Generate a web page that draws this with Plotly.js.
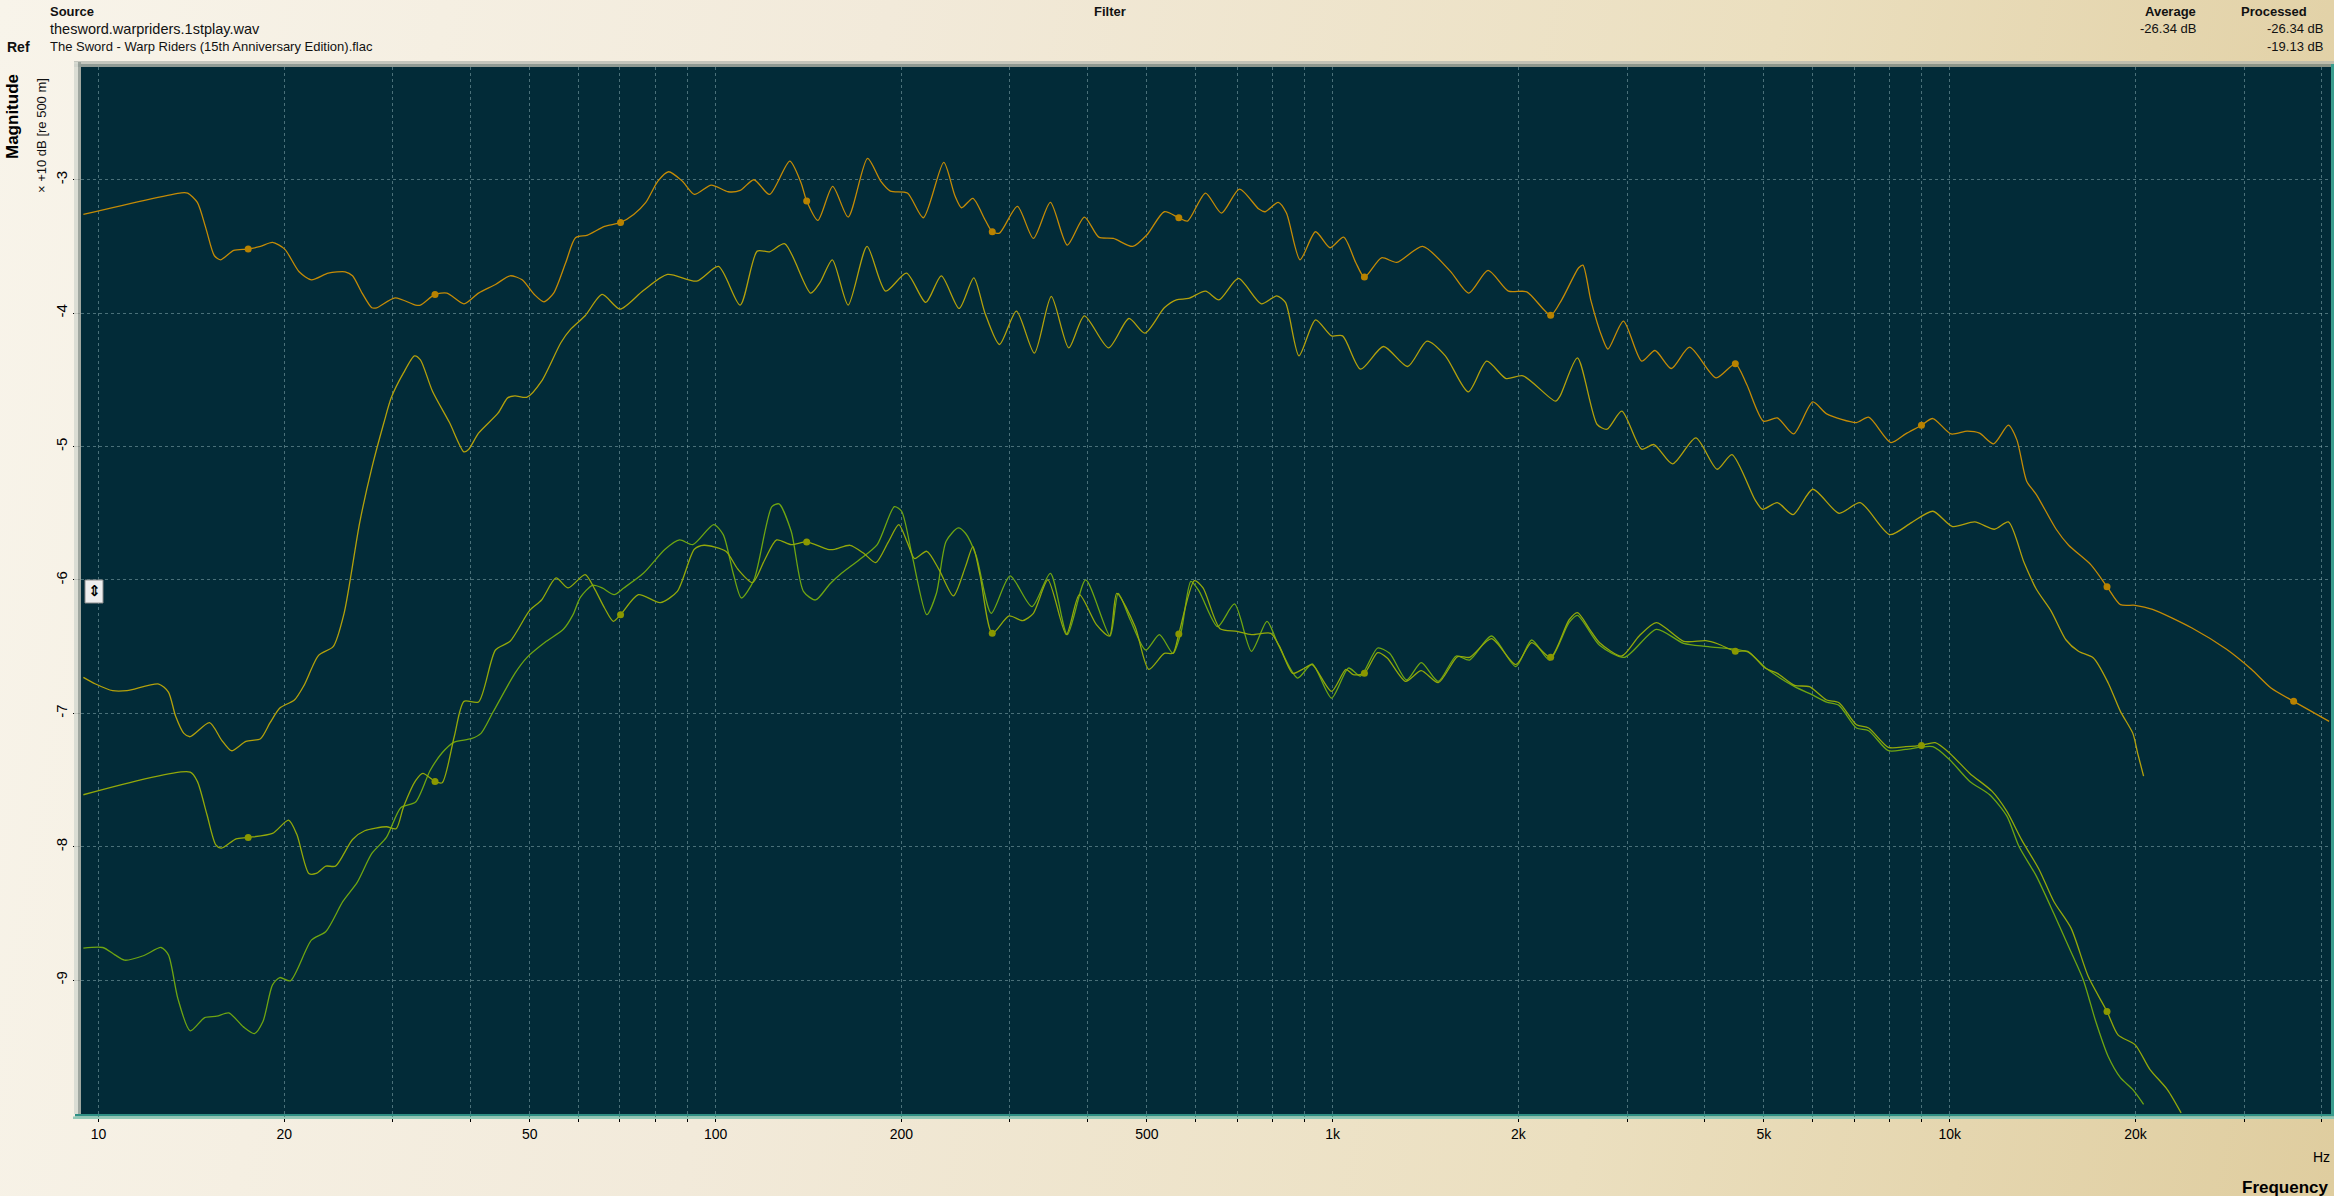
<!DOCTYPE html>
<html>
<head>
<meta charset="utf-8">
<script src="https://cdn.plot.ly/plotly-3.0.1.min.js"></script>
<style>
  html, body { margin:0; padding:0; width:2334px; height:1196px; overflow:hidden; }
  body { background: linear-gradient(100deg, #f8f4ea 0%, #f2eada 35%, #ebdfbf 70%, #dfcd9f 100%); }
  #chart { position:absolute; left:0; top:0; width:2334px; height:1196px; }
</style>
</head>
<body>
<div id="chart"></div>
<script>
// ---------- DATA ----------
// Curve A (upper orange, with markers)
const aFreq = [9.45,13.62,13.95,14.46,14.94,15.41,15.78,16.56,17.48,18.30,19.14,20.03,21.14,22.13,23.57,25.10,25.80,26.74,27.73,28.24,30.25,32.65,33.24,35.10,36.71,39.11,41.29,43.99,46.45,48.59,50.84,52.71,54.65,57.18,59.29,62.03,66.08,70.15,73.67,77.08,80.64,83.93,88.30,92.38,98.4,104.8,109.6,115.4,122.3,131.9,137.5,140.5,146.5,154.8,164.0,176.3,185.2,192.0,204.6,217.1,234.3,244.3,250.5,261.2,273.3,280.8,288.5,308.4,327.4,348.8,371.5,396,417.9,441.2,474.3,500.8,533.6,563.3,581.9,622.3,660.5,706.3,759.4,777.4,816.3,841.7,885.5,938.2,990.4,1042,1090,1126,1200,1271,1399,1551,1662,1786,1927,2064,2256,2351,2505,2545,2620,2736,2794,2960,3168,3330,3539,3788,4183,4494,4690,4993,5256,5586,6000,6319,7062,7391,8030,8486,9001,9392,10050,10680,11180,11780,12450,12850,13330,13820,14880,15590,16930,17990,18910,19980,21320,24700,28100,30830,33170,36100,41210];
const aMag = [-3.26,-3.098,-3.10,-3.17,-3.37,-3.57,-3.60,-3.53,-3.52,-3.50,-3.47,-3.52,-3.69,-3.75,-3.70,-3.69,-3.72,-3.85,-3.96,-3.96,-3.885,-3.94,-3.94,-3.86,-3.85,-3.93,-3.85,-3.785,-3.72,-3.75,-3.86,-3.915,-3.85,-3.62,-3.435,-3.415,-3.35,-3.32,-3.26,-3.17,-3.01,-2.94,-3.01,-3.11,-3.04,-3.09,-3.08,-3.00,-3.11,-2.86,-3.02,-3.16,-3.305,-3.05,-3.28,-2.84,-3.01,-3.085,-3.10,-3.285,-2.87,-3.12,-3.21,-3.14,-3.30,-3.39,-3.40,-3.20,-3.44,-3.17,-3.49,-3.28,-3.43,-3.44,-3.50,-3.41,-3.24,-3.285,-3.31,-3.10,-3.25,-3.07,-3.22,-3.24,-3.17,-3.25,-3.60,-3.39,-3.51,-3.43,-3.62,-3.73,-3.585,-3.62,-3.50,-3.685,-3.85,-3.68,-3.835,-3.84,-4.015,-3.90,-3.66,-3.64,-3.90,-4.185,-4.27,-4.06,-4.36,-4.28,-4.415,-4.255,-4.485,-4.38,-4.535,-4.81,-4.785,-4.905,-4.665,-4.755,-4.82,-4.78,-4.97,-4.905,-4.84,-4.79,-4.905,-4.885,-4.90,-4.98,-4.84,-4.95,-5.26,-5.36,-5.62,-5.74,-5.885,-6.05,-6.185,-6.19,-6.22,-6.36,-6.52,-6.67,-6.81,-6.91,-7.06];

// Curve B (second gold curve)
const bFreq = [9.45,9.89,10.54,11.12,12.52,12.98,13.33,13.75,14.08,15.13,15.83,16.42,17.33,18.30,18.97,19.67,20.77,21.53,22.73,24.00,25.0,26.50,27.73,29.01,29.81,31.19,32.52,33.24,34.77,37.05,39.11,39.82,41.29,44.40,46.03,47.29,49.49,52.24,56.17,58.24,61.46,65.50,69.99,76.38,83.6,93.2,101.1,109.6,116.8,122.3,129.5,142.6,147.7,154.6,164.0,176.0,188.6,203.9,219.1,232.2,248.2,262.1,273.3,288.5,307.3,328.6,350.0,373.6,396,433.4,467.6,496.3,533.6,558.3,584.1,622.3,654.4,703.6,766.2,811.9,838.6,882.1,938.2,995.9,1038,1110,1209,1323,1422,1523,1659,1777,1910,2035,2297,2337,2493,2684,2784,2942,3168,3318,3556,3878,4199,4437,4838,4974,5256,5576,6000,6617,7161,7998,8673,9392,10110,10980,11820,12450,13200,13820,14610,15440,16170,17100,18060,18910,19810,20170,20620];
const bMag = [-6.73,-6.78,-6.83,-6.83,-6.78,-6.84,-7.02,-7.15,-7.175,-7.07,-7.20,-7.28,-7.21,-7.19,-7.07,-6.96,-6.90,-6.79,-6.565,-6.50,-6.25,-5.57,-5.16,-4.82,-4.635,-4.45,-4.32,-4.35,-4.585,-4.82,-5.04,-5.02,-4.90,-4.75,-4.635,-4.62,-4.63,-4.51,-4.22,-4.12,-4.02,-3.86,-3.97,-3.83,-3.71,-3.76,-3.65,-3.94,-3.535,-3.54,-3.48,-3.85,-3.77,-3.60,-3.94,-3.50,-3.835,-3.70,-3.92,-3.72,-3.965,-3.735,-4.00,-4.235,-3.985,-4.30,-3.875,-4.26,-4.02,-4.26,-4.04,-4.15,-3.96,-3.90,-3.89,-3.835,-3.90,-3.74,-3.93,-3.87,-3.92,-4.32,-4.05,-4.17,-4.17,-4.42,-4.25,-4.40,-4.21,-4.32,-4.59,-4.36,-4.49,-4.47,-4.66,-4.62,-4.335,-4.835,-4.87,-4.735,-5.02,-4.985,-5.13,-4.935,-5.17,-5.06,-5.40,-5.47,-5.42,-5.51,-5.32,-5.50,-5.42,-5.66,-5.57,-5.485,-5.60,-5.565,-5.62,-5.565,-5.87,-6.07,-6.235,-6.45,-6.535,-6.585,-6.77,-6.985,-7.15,-7.30,-7.47];

// Curve C (green, with markers)
const cFreq = [9.45,14.08,14.46,14.99,15.49,15.83,16.71,17.48,19.14,20.32,20.95,21.92,22.53,23.36,24.22,25.80,27.0,29.28,30.36,31.19,32.65,33.54,35.10,36.05,37.71,39.11,41.29,43.99,46.45,49.94,52.24,55.14,57.69,61.46,63.73,66.08,68.28,70.15,74.99,81.35,86.7,92.38,95.8,103.9,108.7,114.8,120.1,125.6,132.6,140.5,151.9,155.9,165.2,173.8,181.8,190.3,198.1,204.6,210.2,219.9,230.1,242.9,254.1,261.2,268.4,280.8,299,314.6,327.4,345.6,370.2,388.7,414.2,434.9,446.9,478.6,503.6,533.6,551.2,563.3,597,616.6,657,699.8,738.7,794.3,820.6,861.7,893.4,926.4,995.9,1051,1080,1126,1183,1226,1313,1392,1483,1594,1667,1809,1981,2102,2256,2416,2493,2610,2708,2942,3139,3347,3706,4025,4216,4494,4708,5020,5256,5607,5926,6319,6617,7062,7391,7954,8486,9001,9476,10010,10780,11720,12380,13090,13960,14750,15730,16780,17990,18740,19980,21120,22530,23720];
const cMag = [-7.61,-7.44,-7.51,-7.76,-7.985,-8.01,-7.94,-7.93,-7.90,-7.80,-7.905,-8.20,-8.20,-8.145,-8.145,-7.945,-7.88,-7.85,-7.865,-7.705,-7.505,-7.45,-7.51,-7.52,-7.175,-6.91,-6.915,-6.525,-6.46,-6.23,-6.15,-5.985,-6.06,-5.96,-6.07,-6.21,-6.31,-6.26,-6.11,-6.17,-6.085,-5.77,-5.74,-5.785,-5.92,-6.02,-5.85,-5.70,-5.735,-5.715,-5.77,-5.77,-5.74,-5.80,-5.87,-5.72,-5.585,-5.72,-5.84,-5.785,-5.92,-6.12,-5.90,-5.75,-5.97,-6.40,-6.27,-6.305,-6.25,-6.00,-6.41,-6.11,-6.335,-6.42,-6.10,-6.35,-6.67,-6.55,-6.55,-6.405,-6.005,-6.06,-6.365,-6.385,-6.41,-6.40,-6.50,-6.70,-6.67,-6.635,-6.835,-6.67,-6.71,-6.70,-6.545,-6.585,-6.76,-6.68,-6.77,-6.575,-6.58,-6.44,-6.635,-6.47,-6.58,-6.30,-6.245,-6.37,-6.47,-6.57,-6.42,-6.32,-6.46,-6.455,-6.48,-6.535,-6.535,-6.66,-6.70,-6.79,-6.80,-6.90,-6.92,-7.085,-7.11,-7.255,-7.25,-7.24,-7.22,-7.30,-7.45,-7.585,-7.735,-7.95,-8.17,-8.41,-8.61,-8.975,-9.235,-9.41,-9.485,-9.67,-9.82,-9.995];

// Curve D (green)
const dFreq = [9.45,10.16,10.63,11.02,11.85,12.63,12.98,13.45,14.08,14.86,15.55,16.26,17.17,17.89,18.47,19.14,19.67,20.46,22.13,23.36,24.89,26.27,27.73,29.28,30.91,32.65,34.45,36.05,37.71,40.18,41.67,43.59,47.29,49.49,53.18,56.67,58.75,60.38,63.17,65.50,68.5,71.0,76.38,82.83,87.45,91.87,99.3,102.9,106.8,110.1,115.4,123.4,126.7,132.6,138.8,145.2,153.2,160.0,170.8,182.8,194.9,200.2,208.3,219.9,228.0,236.4,247.3,254.1,264.5,279.8,300.1,325.6,348.8,371.5,398,435.8,449.3,470,498,524,551.2,568.4,589.3,607.9,651.1,693.4,738.7,782.8,816.3,877.6,926.4,995.9,1061,1110,1183,1237,1318,1392,1483,1586,1667,1809,1981,2102,2247,2416,2493,2708,2970,3347,3706,4063,4708,5067,5607,5981,6319,6617,7062,7391,7954,8486,9392,10010,10780,11610,12380,12960,13820,14750,15590,16470,17250,18060,18910,19810,20620];
const dMag = [-8.76,-8.755,-8.81,-8.85,-8.815,-8.755,-8.81,-9.14,-9.38,-9.28,-9.27,-9.245,-9.35,-9.40,-9.31,-9.035,-8.98,-9.005,-8.70,-8.635,-8.41,-8.265,-8.05,-7.93,-7.705,-7.665,-7.43,-7.295,-7.215,-7.19,-7.15,-6.99,-6.70,-6.58,-6.46,-6.37,-6.26,-6.13,-6.04,-6.06,-6.11,-6.06,-5.95,-5.77,-5.70,-5.735,-5.585,-5.66,-5.95,-6.135,-6.00,-5.45,-5.43,-5.635,-6.085,-6.15,-6.03,-5.95,-5.85,-5.735,-5.45,-5.485,-5.82,-6.26,-6.10,-5.71,-5.61,-5.65,-5.82,-6.25,-5.97,-6.20,-5.95,-6.41,-6.00,-6.42,-6.10,-6.30,-6.525,-6.41,-6.55,-6.385,-6.01,-6.085,-6.35,-6.18,-6.535,-6.31,-6.485,-6.735,-6.63,-6.885,-6.66,-6.72,-6.51,-6.55,-6.75,-6.62,-6.76,-6.57,-6.60,-6.42,-6.65,-6.45,-6.60,-6.32,-6.265,-6.49,-6.58,-6.37,-6.475,-6.50,-6.54,-6.67,-6.80,-6.86,-6.915,-6.94,-7.11,-7.13,-7.28,-7.27,-7.25,-7.35,-7.51,-7.61,-7.77,-8.00,-8.22,-8.50,-8.75,-9.00,-9.31,-9.57,-9.73,-9.82,-9.93];

// Octave markers
const aMarkFreq = [17.48,35.1,70.15,140.5,280.8,563.3,1126,2256,4494,9001,17990,36100];
const aMarkMag  = [-3.52,-3.86,-3.32,-3.16,-3.39,-3.285,-3.73,-4.015,-4.38,-4.84,-6.05,-6.91];
const cMarkFreq = [17.48,35.1,70.15,140.5,280.8,563.3,1126,2256,4494,9001,17990];
const cMarkMag  = [-7.93,-7.51,-6.26,-5.715,-6.40,-6.405,-6.70,-6.58,-6.535,-7.24,-9.235];

// Axis ticks
const xTickVals = [10,20,30,40,50,60,70,80,90,100,200,300,400,500,600,700,800,900,1000,2000,3000,4000,5000,6000,7000,8000,9000,10000,20000,30000,40000];
const xTickText = ['10','20','','','50','','','','','100','200','','','500','','','','','1k','2k','','','5k','','','','','10k','20k','',''];
const yTickVals = [-9,-8,-7,-6,-5,-4,-3];
const yTickText = ['-9','-8','-7','-6','-5','-4','-3'];

// ---------- CHART ----------
const W = 2334, H = 1196, L = 81, R = 3, T = 67, B = 82;
const PW = W - L - R, PH = H - T - B;
const px = x => (x - L) / PW;
const py = y => (H - B - y) / PH;

const colA = '#c48b06', colB = '#b3a10c', colC = '#93a90a', colD = '#6ea512';
function line(x, y, c) {
  return { x, y, type:'scatter', mode:'lines', line:{color:c, width:1.3, shape:'spline', smoothing:0.7}, hoverinfo:'skip' };
}
const traces = [
  line(dFreq, dMag, colD),
  line(cFreq, cMag, colC),
  line(bFreq, bMag, colB),
  line(aFreq, aMag, colA),
  { x:cMarkFreq, y:cMarkMag, type:'scatter', mode:'markers', marker:{color:'#8a9800', size:7}, hoverinfo:'skip' },
  { x:aMarkFreq, y:aMarkMag, type:'scatter', mode:'markers', marker:{color:'#b88200', size:7}, hoverinfo:'skip' }
];

const gridCol = 'rgba(135,170,175,0.55)';
const F = 'Liberation Sans, Arial, sans-serif';
function ann(text, x, y, opts) {
  return Object.assign({ text, x:px(x), y:py(y), xref:'paper', yref:'paper', showarrow:false,
    xanchor:'left', yanchor:'middle', font:{family:F, size:13, color:'#111'} }, opts || {});
}
const R1 = 12, R2 = 28.5, R3 = 47;
const annotations = [
  ann('<b>Source</b>', 48, R1),
  ann('thesword.warpriders.1stplay.wav', 48, R2, {font:{family:F, size:14.5, color:'#111'}}),
  ann('<b>Ref</b>', 5, R3, {font:{family:F, size:14, color:'#111'}}),
  ann('The Sword - Warp Riders (15th Anniversary Edition).flac', 48, R3),
  ann('<b>Filter</b>', 1110, R1, {xanchor:'center'}),
  ann('<b>Average</b>', 2198, R1, {xanchor:'right'}),
  ann('-26.34 dB', 2198, R2, {xanchor:'right'}),
  ann('<b>Processed</b>', 2309, R1, {xanchor:'right'}),
  ann('-26.34 dB', 2325, R2, {xanchor:'right'}),
  ann('-19.13 dB', 2325, R3, {xanchor:'right'}),
  ann('<b>Magnitude</b>', 13, 117, {xanchor:'center', textangle:-90, font:{family:F, size:17, color:'#000'}}),
  ann('× +10 dB [re 500 m]', 42, 136, {xanchor:'center', textangle:-90, font:{family:F, size:13, color:'#111'}}),
  ann('Hz', 2321, 1157, {xanchor:'center', font:{family:F, size:14, color:'#000'}}),
  ann('<b>Frequency</b>', 2331, 1187, {xanchor:'right', font:{family:F, size:17, color:'#000'}}),
  ann('<b>⇕</b>', 94, 591.5, {xanchor:'center', font:{family:'DejaVu Sans', size:15, color:'#000'}})
];

function rect(x0, y0, x1, y1, fill, extra) {
  return Object.assign({ type:'rect', xref:'paper', yref:'paper', x0:px(x0), x1:px(x1), y0:py(y0), y1:py(y1),
    fillcolor:fill, line:{width:0}, layer:'above' }, extra || {});
}
const shapes = [
  rect(74, 61, W, 64, 'rgba(175,180,172,0.7)'),
  rect(74, 64, W, 67, 'rgba(110,125,122,0.75)'),
  rect(74, 62, 78, 1114, 'rgba(215,218,210,0.9)'),
  rect(78, 62, 81, 1114, 'rgba(150,158,152,0.9)'),
  rect(75, 1114, W, 1116.5, '#2f8f84'),
  rect(73, 1116.5, W, 1119, '#93c8b6'),
  rect(2331, 64, W, 1116, '#3a9d8e'),
  rect(85, 580, 103, 603, '#eeeeee', {line:{color:'#8a8a8a', width:1}})
];

const layout = {
  width: W, height: H,
  margin: {l:L, r:R, t:T, b:B, pad:0},
  paper_bgcolor: 'rgba(0,0,0,0)',
  plot_bgcolor: '#022b38',
  showlegend: false,
  hovermode: false,
  font: {family:F, color:'#000', size:14},
  xaxis: {
    type:'log', range:[0.9716, 4.618], autorange:false,
    tickmode:'array', tickvals:xTickVals, ticktext:xTickText,
    ticks:'outside', ticklen:7, tickwidth:1, tickcolor:'#000',
    tickfont:{family:F, size:14, color:'#000'},
    showgrid:true, gridcolor:gridCol, gridwidth:1, griddash:'dot',
    zeroline:false, showline:false, fixedrange:true
  },
  yaxis: {
    range:[-10.003, -2.155], autorange:false,
    tickmode:'array', tickvals:yTickVals, ticktext:yTickText, tickangle:-90,
    ticks:'outside', ticklen:7, tickwidth:1, tickcolor:'#000',
    tickfont:{family:F, size:15, color:'#000'},
    showgrid:true, gridcolor:gridCol, gridwidth:1, griddash:'dot',
    zeroline:false, showline:false, fixedrange:true
  },
  annotations, shapes
};

Plotly.newPlot('chart', traces, layout, {staticPlot:true, displayModeBar:false});
</script>
</body>
</html>
